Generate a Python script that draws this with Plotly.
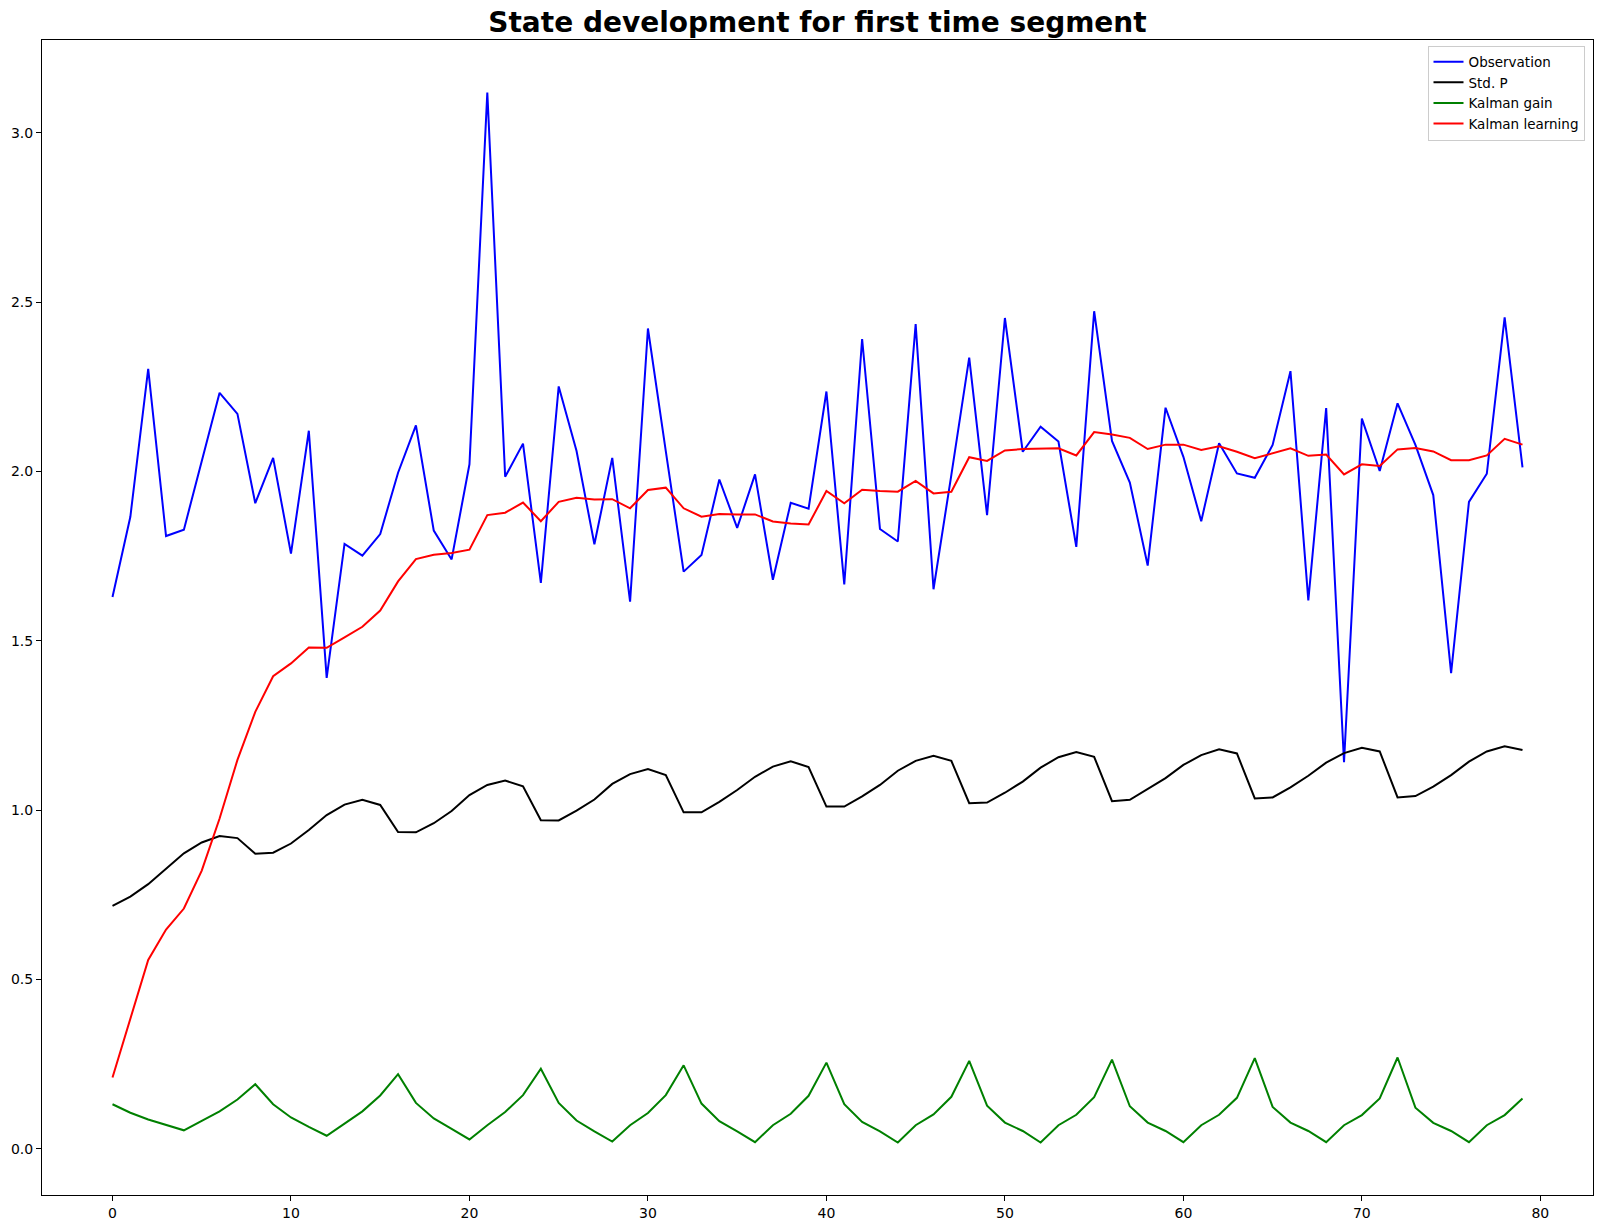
import plotly.graph_objects as go

steps = list(range(80))

observation = [1.629, 1.866, 2.303, 1.809, 1.828, 2.03, 2.232, 2.170, 1.906, 2.040,
               1.757, 2.120, 1.390, 1.786, 1.751, 1.815, 1.996, 2.136, 1.825, 1.740,
               2.021, 3.119, 1.984, 2.082, 1.671, 2.251, 2.060, 1.785, 2.040, 1.615,
               2.422, 2.06, 1.704, 1.753, 1.976, 1.833, 1.991, 1.680, 1.907, 1.890,
               2.236, 1.666, 2.391, 1.830, 1.793, 2.435, 1.652, 1.99, 2.336, 1.871,
               2.453, 2.058, 2.132, 2.088, 1.777, 2.473, 2.090, 1.967, 1.722, 2.188,
               2.043, 1.853, 2.083, 1.994, 1.981, 2.078, 2.296, 1.619, 2.187, 1.141,
               2.156, 2.001, 2.201, 2.078, 1.930, 1.404, 1.910, 1.993, 2.455, 2.012]

std_p = [0.717, 0.744, 0.781, 0.826, 0.872, 0.904, 0.923, 0.917, 0.871, 0.874,
         0.901, 0.941, 0.985, 1.016, 1.030, 1.015, 0.935, 0.934, 0.961, 0.997,
         1.044, 1.074, 1.087, 1.070, 0.970, 0.969, 0.998, 1.031, 1.077, 1.106,
         1.121, 1.103, 0.993, 0.993, 1.024, 1.059, 1.098, 1.128, 1.144, 1.127,
         1.010, 1.010, 1.040, 1.074, 1.116, 1.145, 1.160, 1.145, 1.020, 1.022,
         1.051, 1.084, 1.125, 1.156, 1.171, 1.157, 1.026, 1.030, 1.063, 1.094,
         1.133, 1.162, 1.179, 1.167, 1.034, 1.037, 1.067, 1.101, 1.140, 1.168,
         1.184, 1.173, 1.037, 1.041, 1.069, 1.103, 1.143, 1.173, 1.188, 1.177]

kalman_gain = [0.131, 0.106, 0.086, 0.069, 0.054, 0.082, 0.110, 0.145, 0.190, 0.131,
               0.092, 0.064, 0.038, 0.074, 0.110, 0.157, 0.220, 0.135, 0.089, 0.058,
               0.027, 0.069, 0.108, 0.158, 0.236, 0.135, 0.083, 0.051, 0.021, 0.069,
               0.105, 0.158, 0.246, 0.133, 0.081, 0.051, 0.019, 0.069, 0.103, 0.156,
               0.254, 0.131, 0.079, 0.051, 0.018, 0.069, 0.101, 0.153, 0.259, 0.127,
               0.077, 0.052, 0.018, 0.069, 0.100, 0.152, 0.263, 0.125, 0.077, 0.052,
               0.019, 0.069, 0.100, 0.150, 0.267, 0.123, 0.077, 0.052, 0.019, 0.069,
               0.099, 0.148, 0.269, 0.121, 0.076, 0.052, 0.019, 0.069, 0.099, 0.148]

kalman_learning = [0.210, 0.385, 0.557, 0.647, 0.709, 0.821, 0.975, 1.148, 1.290, 1.395,
                   1.433, 1.480, 1.479, 1.510, 1.541, 1.589, 1.675, 1.741, 1.754, 1.759,
                   1.769, 1.871, 1.878, 1.908, 1.853, 1.910, 1.922, 1.917, 1.918, 1.891,
                   1.945, 1.952, 1.891, 1.866, 1.874, 1.873, 1.873, 1.852, 1.846, 1.843,
                   1.942, 1.906, 1.946, 1.942, 1.940, 1.972, 1.935, 1.940, 2.042, 2.031,
                   2.062, 2.066, 2.068, 2.068, 2.047, 2.116, 2.109, 2.099, 2.066, 2.079,
                   2.079, 2.063, 2.074, 2.058, 2.039, 2.053, 2.068, 2.046, 2.050, 1.991,
                   2.021, 2.016, 2.065, 2.069, 2.059, 2.033, 2.033, 2.047, 2.096, 2.079]

x_ticks = [0, 10, 20, 30, 40, 50, 60, 70, 80]
y_ticks = [0.0, 0.5, 1.0, 1.5, 2.0, 2.5, 3.0]

series = [
    ("Observation", observation, "#0000ff"),
    ("Std. P", std_p, "#000000"),
    ("Kalman gain", kalman_gain, "#008000"),
    ("Kalman learning", kalman_learning, "#ff0000"),
]

fig = go.Figure()
for name, vals, color in series:
    fig.add_trace(go.Scatter(x=steps, y=vals, mode="lines", name=name,
                             line=dict(color=color, width=2)))

W, H = 1601, 1229
L, R, T, B = 42, 8, 40, 34
pw, ph = W - L - R, H - T - B
fig.update_layout(
    width=W, height=H,
    margin=dict(l=L, r=R, t=T, b=B, pad=0),
    paper_bgcolor="white", plot_bgcolor="white",
    font=dict(family="DejaVu Sans", size=14, color="black"),
    title=dict(text="<b>State development for first time segment</b>",
               x=0.5, xref="paper", xanchor="center",
               y=1 - 22.5 / H, yref="container", yanchor="middle",
               font=dict(family="DejaVu Sans", size=28, color="black")),
    showlegend=True,
    legend=dict(x=(1584.5 - L) / pw, xanchor="right",
                y=1 - (45.5 - T) / ph, yanchor="top",
                bgcolor="rgba(255,255,255,0.8)", bordercolor="#cccccc", borderwidth=1,
                font=dict(family="DejaVu Sans", size=13.5, color="black"),
                tracegroupgap=0),
)
fig.update_xaxes(range=[-3.95, 82.95], tickvals=x_ticks, ticktext=[str(v) for v in x_ticks],
                 showgrid=False, zeroline=False, showline=True, mirror=True,
                 linecolor="black", linewidth=1, ticks="outside", ticklen=5,
                 tickcolor="black", tickwidth=1, tickfont=dict(size=14))
fig.update_yaxes(range=[-0.137, 3.274], tickvals=y_ticks, ticktext=[f"{v:.1f}" for v in y_ticks],
                 showgrid=False, zeroline=False, showline=True, mirror=True,
                 linecolor="black", linewidth=1, ticks="outside", ticklen=5,
                 tickcolor="black", tickwidth=1, tickfont=dict(size=14))

fig.write_html("out.html")
